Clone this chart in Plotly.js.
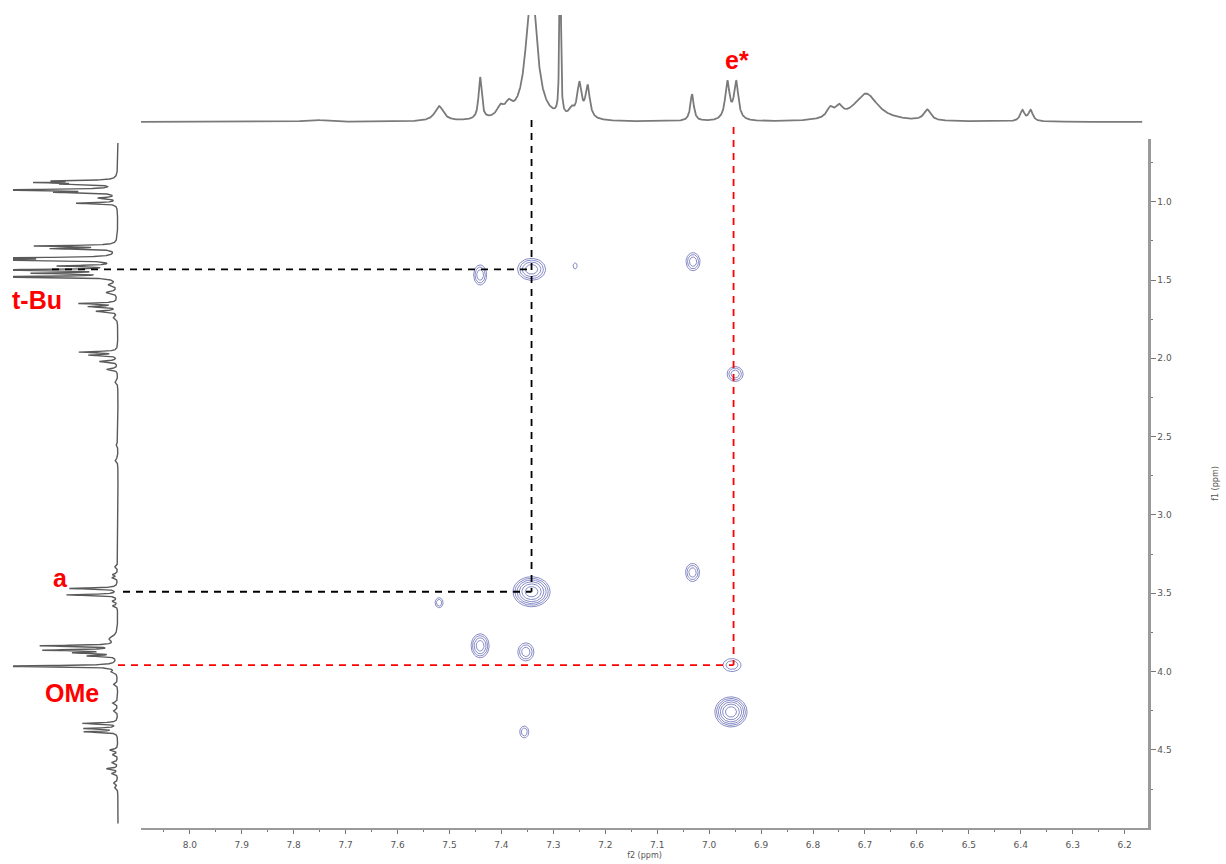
<!DOCTYPE html>
<html><head><meta charset="utf-8">
<script src="https://cdn.plot.ly/plotly-3.0.1.min.js"></script>
<style>html,body{margin:0;padding:0;background:#fff}</style>
</head><body><div id="chart" style="width:1226px;height:864px"></div>
<script>
// ---------- 1H spectrum along f2 (top trace): shift (ppm), height, half-width (ppm)
const topShift  = [7.760, 7.520, 7.441, 7.402, 7.386, 7.342, 7.287, 7.265, 7.250, 7.234, 7.033, 6.965, 6.948, 6.767, 6.750, 6.698, 6.580, 6.397, 6.381];
const topHeight = [2, 15, 42, 10, 11, 140, 700, 8, 34, 32, 27, 38, 38, 10, 10, 28, 11, 11, 11];
const topWidth  = [0.02, 0.010, 0.0035, 0.008, 0.008, 0.012, 0.0007, 0.006, 0.005, 0.005, 0.004, 0.005, 0.005, 0.008, 0.008, 0.028, 0.008, 0.005, 0.005];

// ---------- 1H spectrum along f1 (left trace)
const leftShift  = [0.868,0.878,0.888,0.925,0.940,0.977,1.010,1.283,1.300,1.360,1.372,1.410,1.436,1.457,1.480,1.530,1.580,1.650,1.670,1.700,1.740,1.960,1.980,2.020,2.070,2.150,2.550,2.650,3.330,3.380,3.400,3.469,3.510,3.550,3.580,3.790,3.835,3.863,3.880,3.900,3.965,4.000,4.080,4.200,4.250,4.330,4.363,4.384,4.500,4.530,4.580,4.620,4.650,4.710,4.740];
const leftHeight = [55,70,45,130,55,18,41,80,63,130,130,55,130,78,130,8,11,38,28,21,4,38,28,18,11,3,2,3,3,5,5,48,51,5,5,8,75,71,40,28,130,5,4,5,4,35,33,33,8,5,6,11,6,4,3];
const leftWidth  = [0.004,0.004,0.004,0.004,0.004,0.005,0.004,0.004,0.004,0.004,0.004,0.004,0.004,0.004,0.004,0.008,0.008,0.004,0.004,0.005,0.01,0.004,0.004,0.005,0.006,0.01,0.01,0.01,0.008,0.006,0.006,0.004,0.004,0.006,0.006,0.02,0.004,0.004,0.004,0.004,0.004,0.008,0.008,0.008,0.008,0.004,0.004,0.004,0.006,0.006,0.006,0.005,0.006,0.008,0.008];

// ---------- 2D cross peaks: f2 (ppm), f1 (ppm), half-widths (ppm), contour levels
const peakF2     = [7.441, 7.342, 7.258, 7.031, 6.950, 7.342, 7.520, 7.441, 7.353, 7.032, 6.956, 6.958, 7.356];
const peakF1     = [1.468, 1.432, 1.410, 1.383, 2.100, 3.490, 3.560, 3.835, 3.874, 3.367, 3.958, 4.257, 4.385];
const peakWF2    = [0.0125, 0.027, 0.0039, 0.0135, 0.0154, 0.0357, 0.0077, 0.0173, 0.0154, 0.0135, 0.0173, 0.031, 0.0087];
const peakWF1    = [0.064, 0.070, 0.019, 0.0575, 0.048, 0.0958, 0.032, 0.0766, 0.0575, 0.0575, 0.0415, 0.096, 0.038];
const peakLevels = [3, 4, 1, 3, 3, 6, 2, 4, 3, 3, 2, 6, 2];

// ---------- guide lines and labels
const guideLabels = ['t-Bu', 'a', 'OMe', 'e*'];
const vGuideF2 = [7.342, 6.953];
const vGuideEndF1 = [3.490, 3.958];
const hGuideF1 = [1.432, 3.490, 3.958];
const hGuideEndF2 = [7.342, 7.342, 6.953];

// ---------- layout geometry
const PW = 1148, PH = 828;
const X_RANGE = [8.094, 6.155], X_DOM = [141/PW, 1];
const Y_RANGE = [4.998, 0.6],  Y_DOM = [0, 689/PH];
const X2_RANGE = [105, -23],   X2_DOM = [13/PW, 141/PW];
const Y2_RANGE = [-4, 107],    Y2_DOM = [(PH-126)/PH, (PH-15)/PH];
const lin = (v, r, d) => d[0] + (v - r[0]) / (r[1] - r[0]) * (d[1] - d[0]);
const xP = v => lin(v, X_RANGE, X_DOM), yP = v => lin(v, Y_RANGE, Y_DOM);
const x2P = v => lin(v, X2_RANGE, X2_DOM), y2P = v => lin(v, Y2_RANGE, Y2_DOM);

function lsum(pos, h, w, t) { let s = 0; for (let i = 0; i < pos.length; i++) { const d = (t - pos[i]) / w[i]; s += h[i] / (1 + d * d); } return s; }

// top trace
const tx = [], ty = [];
for (let p = 8.094; p >= 6.166; p -= 0.0003) { tx.push(p); ty.push(lsum(topShift, topHeight, topWidth, p)); }
// left trace
const lx = [], ly = [];
for (let p = 0.625; p <= 4.97; p += 0.0004) { ly.push(p); lx.push(lsum(leftShift, leftHeight, leftWidth, p)); }

// contours
const cx = [], cy = [];
for (let i = 0; i < peakF2.length; i++) {
  const n = peakLevels[i];
  for (let k = 0; k < n; k++) {
    const s = Math.pow(1 - k / n, 0.6);
    for (let j = 0; j <= 48; j++) {
      const t = j / 48 * 2 * Math.PI;
      cx.push(peakF2[i] + peakWF2[i] * s * Math.cos(t));
      cy.push(peakF1[i] + peakWF1[i] * s * Math.sin(t));
    }
    cx.push(null); cy.push(null);
  }
}

const traces = [
  {type:'scatter', mode:'lines', x:tx, y:ty, xaxis:'x', yaxis:'y2', line:{color:'#7a7a7a', width:1.8}, hoverinfo:'skip'},
  {type:'scatter', mode:'lines', x:lx, y:ly, xaxis:'x2', yaxis:'y', line:{color:'#5a5a5a', width:1.4}, hoverinfo:'skip'},
  {type:'scatter', mode:'lines', x:cx, y:cy, xaxis:'x', yaxis:'y', line:{color:'rgba(95,100,178,0.75)', width:1}, connectgaps:false, hoverinfo:'skip'}
];

const dash = {width:1.8, dash:'7px,6px'};
const shapes = [
  {type:'line', xref:'paper', yref:'paper', x0:xP(vGuideF2[0]), x1:xP(vGuideF2[0]), y0:y2P(2), y1:yP(vGuideEndF1[0]), line:Object.assign({color:'#000'}, dash)},
  {type:'line', xref:'paper', yref:'paper', x0:xP(vGuideF2[1]), x1:xP(vGuideF2[1]), y0:y2P(-5), y1:yP(vGuideEndF1[1]), line:Object.assign({color:'#ff0000'}, dash)},
  {type:'line', xref:'paper', yref:'paper', x0:x2P(66), x1:xP(hGuideEndF2[0]), y0:yP(hGuideF1[0]), y1:yP(hGuideF1[0]), line:Object.assign({color:'#000'}, dash)},
  {type:'line', xref:'paper', yref:'paper', x0:x2P(-5), x1:xP(hGuideEndF2[1]), y0:yP(hGuideF1[1]), y1:yP(hGuideF1[1]), line:Object.assign({color:'#000'}, dash)},
  {type:'line', xref:'paper', yref:'paper', x0:x2P(0), x1:xP(hGuideEndF2[2]), y0:yP(hGuideF1[2]), y1:yP(hGuideF1[2]), line:Object.assign({color:'#ff0000'}, dash)}
];

const labFont = {family:'Liberation Sans, Arial, sans-serif', size:25, color:'#ff0000', weight:'bold'};
const labPos = [[37,300],[60,578],[72,693],[737,60]];
const annotations = guideLabels.map((t, i) => ({text:'<b>' + t + '</b>', xref:'paper', yref:'paper', x:labPos[i][0]/PW, y:(PH-labPos[i][1])/PH, xanchor:'center', yanchor:'middle', showarrow:false, font:labFont}));

const tickFont = {family:'DejaVu Sans, sans-serif', size:9, color:'#555'};
const layout = {
  width:1226, height:864, margin:{l:0, r:78, t:0, b:36},
  paper_bgcolor:'#fff', plot_bgcolor:'#fff', showlegend:false,
  xaxis:{domain:X_DOM, range:X_RANGE, anchor:'y', showline:true, linecolor:'#9a9a9a', linewidth:1.5,
    ticks:'outside', ticklen:4, tickcolor:'#777', tickwidth:1, dtick:0.1, tick0:0, tickformat:'.1f',
    minor:{dtick:0.05, ticks:'outside', ticklen:2, tickcolor:'#777'},
    tickfont:tickFont, ticklabelstandoff:4, showgrid:false, zeroline:false,
    title:{text:'f2 (ppm)', font:{family:'DejaVu Sans, sans-serif', size:8, color:'#555'}, standoff:3}},
  yaxis:{domain:Y_DOM, range:Y_RANGE, anchor:'x', side:'right', showline:true, linecolor:'#9a9a9a', linewidth:2.5,
    ticks:'outside', ticklen:5, tickcolor:'#777', dtick:0.5, tick0:0, tickformat:'.1f',
    minor:{dtick:0.25, ticks:'outside', ticklen:2, tickcolor:'#777'},
    tickfont:tickFont, showgrid:false, zeroline:false,
    title:{text:'f1 (ppm)', font:{family:'DejaVu Sans, sans-serif', size:8, color:'#555'}, standoff:42}},
  xaxis2:{domain:X2_DOM, range:X2_RANGE, anchor:'y', visible:false, showgrid:false, zeroline:false},
  yaxis2:{domain:Y2_DOM, range:Y2_RANGE, anchor:'x', visible:false, showgrid:false, zeroline:false},
  shapes:shapes, annotations:annotations
};
Plotly.newPlot('chart', traces, layout, {staticPlot:true, displayModeBar:false});
</script></body></html>
